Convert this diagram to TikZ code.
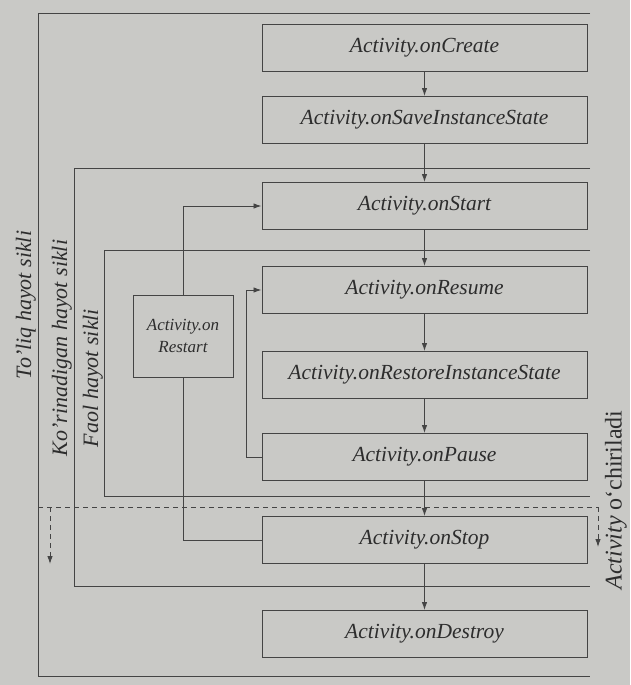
\documentclass[tikz,border=0pt]{standalone}
\usepackage{fontspec}
\setmainfont{Liberation Serif}
\usetikzlibrary{arrows.meta,calc}
\definecolor{bg}{RGB}{201,201,198}
\definecolor{ink}{RGB}{68,68,68}
\definecolor{txt}{RGB}{45,45,45}
\begin{document}
\begin{tikzpicture}[x=1pt,y=-1pt,
  stage/.style={draw=ink, line width=1pt, minimum width=325pt, minimum height=47pt, inner sep=0pt, font=\fontsize{21.5}{24}\selectfont\itshape, text=txt},
  restartbox/.style={draw=ink, line width=1pt, minimum width=100pt, minimum height=82pt, align=center, font=\fontsize{17}{22}\selectfont\itshape, text=txt},
  frame/.style={draw=ink, line width=1pt},
  link/.style={draw=ink, line width=0.9pt},
  flow/.style={draw=ink, line width=0.9pt, -{Latex[length=8pt,width=5.5pt]}},
  dashflow/.style={draw=ink, line width=0.9pt, dash pattern=on 5pt off 4pt, -{Latex[length=8pt,width=5.5pt]}},
  lbl/.style={rotate=90, anchor=south, inner sep=1pt, font=\fontsize{22}{24}\selectfont\itshape, text=txt}]
\fill[bg] (0,0) rectangle (630,685);
\useasboundingbox (0,0) rectangle (630,685);

% stages
\node[stage] (create)  at (424.5,48)  {Activity.onCreate};
\node[stage] (save)    at (424.5,120) {Activity.onSaveInstanceState};
\node[stage] (start)   at (424.5,206) {Activity.onStart};
\node[stage] (resume)  at (424.5,290) {Activity.onResume};
\node[stage] (restore) at (424.5,375) {Activity.onRestoreInstanceState};
\node[stage] (pause)   at (424.5,457) {Activity.onPause};
\node[stage] (stop)    at (424.5,540) {Activity.onStop};
\node[stage] (destroy) at (424.5,634) {Activity.onDestroy};
\node[restartbox] (restart) at (183,336) {Activity.on\\Restart};

% lifetime frames
\coordinate (oTR) at (590,14);  \coordinate (oTL) at (38,14);
\coordinate (oBL) at (38,676);  \coordinate (oBR) at (590,676);
\draw[frame] (oTR) -- (oTL) -- (oBL) -- (oBR);
\coordinate (vTR) at (590,168); \coordinate (vTL) at (74,168);
\coordinate (vBL) at (74,586);  \coordinate (vBR) at (590,586);
\draw[frame] (vTR) -- (vTL) -- (vBL) -- (vBR);
\coordinate (aTR) at (590,250); \coordinate (aTL) at (104,250);
\coordinate (aBL) at (104,496); \coordinate (aBR) at (590,496);
\draw[frame] (aTR) -- (aTL) -- (aBL) -- (aBR);

% labels
\node[lbl] (l1) at (37,305) {To'liq hayot sikli};
\node[lbl] (l2) at (73,348) {Ko'rinadigan hayot sikli};
\node[lbl] (l3) at (104,378) {Faol hayot sikli};
\node[rotate=90, inner sep=0pt, font=\fontsize{24}{26}\selectfont, text=txt] (kill) at (616,500) {\textit{Activity} o`chiriladi};

% killed line
\coordinate (dL) at (38,507);
\coordinate (dA) at (50,507);
\coordinate (dAe) at (50,564);
\coordinate (dR) at (598,507);
\coordinate (dRe) at (598,547);
\draw[link, dash pattern=on 5pt off 4pt] (dL) -- (dR);
\draw[dashflow] (dA) -- (dAe);
\draw[dashflow] (dR) -- (dRe);

% main flow
\draw[flow] (create) -- (save);
\draw[flow] (save) -- (start);
\draw[flow] (start) -- (resume);
\draw[flow] (resume) -- (restore);
\draw[flow] (restore) -- (pause);
\draw[flow] (pause) -- (stop);
\draw[flow] (stop) -- (destroy);

% loops
\draw[flow] (restart.north) |- (start.west);
\draw[link] (stop.west) -| (restart.south);
\draw[flow] (pause.west) -- ++(-15,0) |- (resume.west);
\end{tikzpicture}
\end{document}
